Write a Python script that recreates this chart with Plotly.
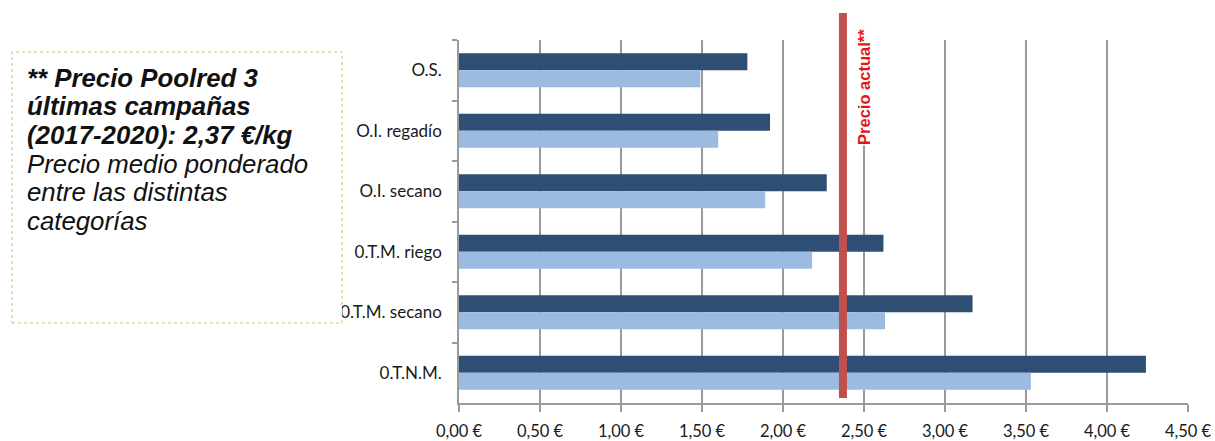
import plotly.graph_objects as go

# Categorías de olivar y valores en €/kg
categorias = ["O.S.", "O.I. regadío", "O.I. secano", "0.T.M. riego", "0.T.M. secano", "0.T.N.M."]
serie_oscura = [1.78, 1.92, 2.27, 2.62, 3.17, 4.24]
serie_clara = [1.49, 1.60, 1.89, 2.18, 2.63, 3.53]
precio_actual = 2.37

ticks_x = [0, 0.5, 1.0, 1.5, 2.0, 2.5, 3.0, 3.5, 4.0, 4.5]
etiquetas_x = ["0,00 €", "0,50 €", "1,00 €", "1,50 €", "2,00 €", "2,50 €",
               "3,00 €", "3,50 €", "4,00 €", "4,50 €"]

lineas_nota = [
    ("<b><i>** Precio Poolred 3</i></b>", 78),
    ("<b><i>últimas campañas</i></b>", 106),
    ("<b><i>(2017-2020): 2,37 €/kg</i></b>", 135),
    ("<i>Precio medio ponderado</i>", 164),
    ("<i>entre las distintas</i>", 192),
    ("<i>categorías</i>", 221),
]

AZUL_OSCURO = "#2E4E74"
AZUL_CLARO = "#9BBBE0"
GRIS = "#9A9A9A"

# Área de trazado en píxeles
W, H = 1215, 441
M_L, M_R, M_T, M_B = 459, 27, 40, 38
ANCHO = W - M_L - M_R
ALTO = H - M_T - M_B


def px_x(px):
    return (px - M_L) / ANCHO


def px_y(py):
    return (H - M_B - py) / ALTO


fig = go.Figure()
fig.add_trace(go.Bar(y=categorias, x=serie_oscura, orientation="h",
                     marker=dict(color=AZUL_OSCURO, line=dict(width=0)), showlegend=False))
fig.add_trace(go.Bar(y=categorias, x=serie_clara, orientation="h",
                     marker=dict(color=AZUL_CLARO, line=dict(width=0)), showlegend=False))

# Línea del precio actual
fig.add_shape(type="line", xref="x", yref="paper",
              x0=precio_actual, x1=precio_actual, y0=px_y(398), y1=px_y(13),
              line=dict(color="#C0504D", width=8), layer="above")

fig.add_annotation(x=precio_actual, xref="x", y=px_y(87), yref="paper",
                   text="<b>Precio actual**</b>", textangle=-90, showarrow=False,
                   xshift=21, xanchor="center", yanchor="middle",
                   bgcolor="white", borderpad=0,
                   font=dict(family="Liberation Sans", size=16.5, color="#E3141C"))

# Recuadro de la nota
fig.add_shape(type="rect", xref="paper", yref="paper",
              x0=px_x(12), x1=px_x(342), y0=px_y(323), y1=px_y(52),
              fillcolor="white", line=dict(color="#C8C86E", width=1, dash="dot"),
              layer="above")

for texto, py in lineas_nota:
    fig.add_annotation(x=px_x(25), xref="paper", y=px_y(py), yref="paper",
                       text=texto, showarrow=False, align="left",
                       xanchor="left", yanchor="middle",
                       font=dict(family="Liberation Sans", size=25.8, color="#111111"))

fig.update_layout(
    width=W, height=H,
    margin=dict(l=M_L, r=M_R, t=M_T, b=M_B, autoexpand=False),
    paper_bgcolor="white", plot_bgcolor="white",
    barmode="group", bargap=0.44, bargroupgap=0,
    xaxis=dict(range=[0, 4.5], tickvals=ticks_x, ticktext=etiquetas_x,
               automargin=False,
               showgrid=True, gridcolor=GRIS, gridwidth=1.5, zeroline=False,
               showline=True, linecolor=GRIS, linewidth=1.5,
               ticks="outside", ticklen=7, tickcolor=GRIS, tickwidth=1.5,
               ticklabelstandoff=5,
               tickfont=dict(family="Lato", size=16.5, color="#1a1a1a")),
    yaxis=dict(type="category", autorange="reversed", showgrid=False,
               automargin=False,
               showline=True, linecolor=GRIS, linewidth=1.5,
               ticks="outside", tickson="boundaries", ticklen=5,
               tickcolor=GRIS, tickwidth=1.5, ticklabelstandoff=12,
               tickfont=dict(family="Lato", size=17, color="#1a1a1a")),
)

fig.write_html("out.html")
